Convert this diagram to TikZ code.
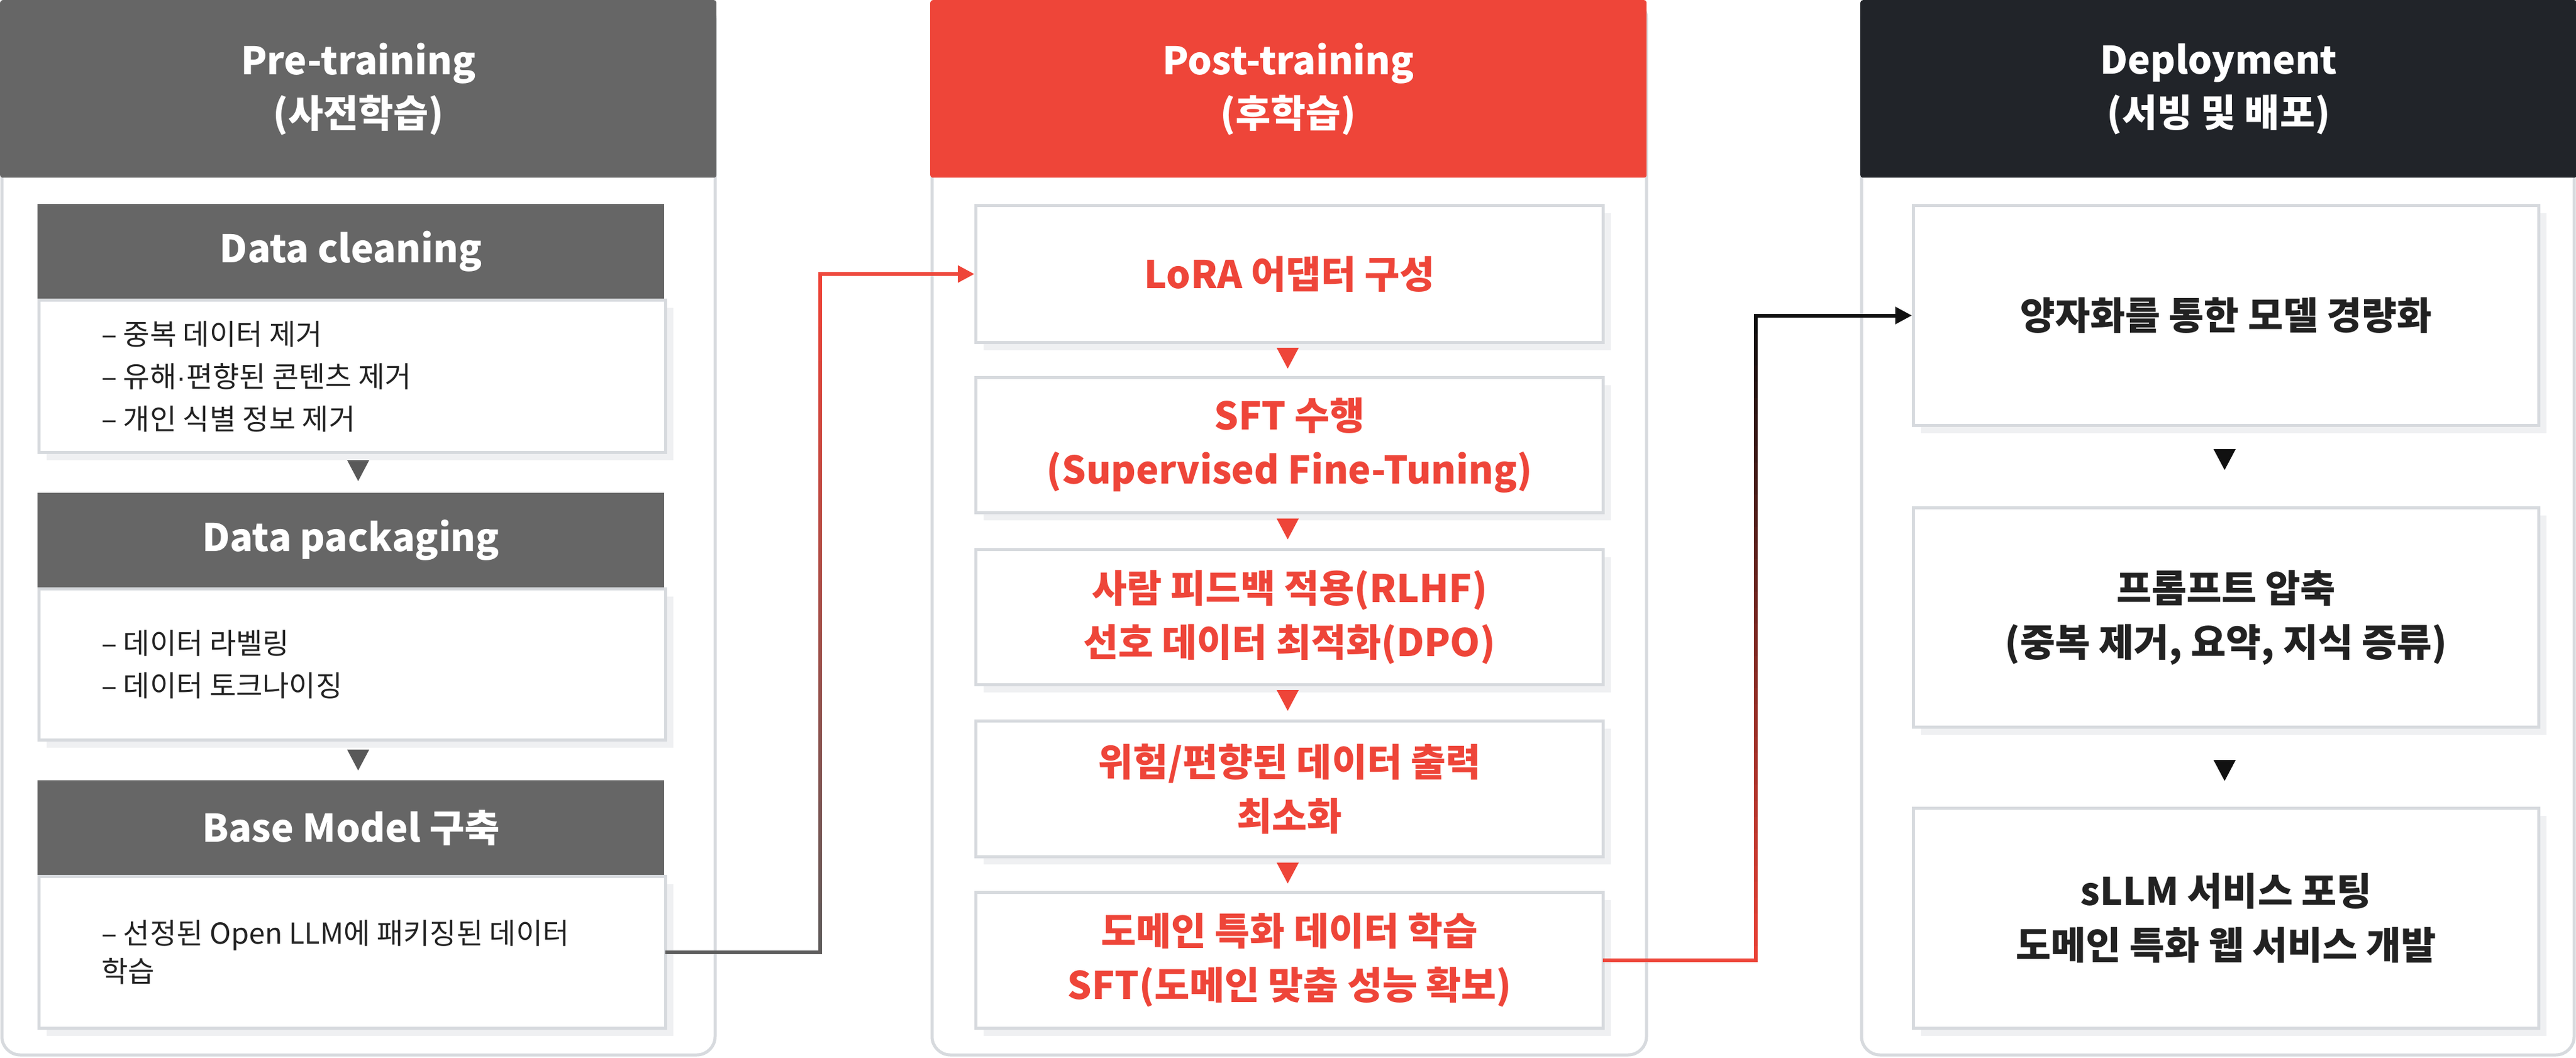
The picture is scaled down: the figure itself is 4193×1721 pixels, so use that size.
\documentclass[tikz,border=0pt]{standalone}
\usepackage{fontspec}
\setmainfont{Noto Sans CJK KR}
\newfontfamily\dotfont{Liberation Sans}
\usetikzlibrary{arrows.meta,calc}

\definecolor{pregray}{HTML}{666666}
\definecolor{postred}{HTML}{EE4539}
\definecolor{deploydark}{HTML}{212429}
\definecolor{framegray}{HTML}{D7DADE}
\definecolor{shadegray}{HTML}{EFF0F2}
\definecolor{inkdark}{HTML}{222222}
\definecolor{markgray}{HTML}{595959}
\definecolor{linegray}{HTML}{5E5E5E}
\definecolor{lineblack}{HTML}{111111}

\newcommand{\headfont}{\fontsize{62}{86}\selectfont\bfseries}
\newcommand{\stepfont}{\fontsize{62}{88}\selectfont\bfseries}
\newcommand{\bodyfont}{\fontsize{47}{69}\selectfont}

\tikzset{
  column/.style={draw=framegray, line width=5pt, fill=white, rounded corners=30pt},
  colhead/.style={anchor=north west, minimum width=1166pt, minimum height=289pt,
    inner sep=0pt, rounded corners=4pt, text=white, align=center, font=\headfont},
  boxshadow/.style={preaction={fill=shadegray, transform canvas={xshift=12pt, yshift=-12pt}}},
  stephead/.style={anchor=north west, minimum width=1020pt, minimum height=154pt,
    inner sep=0pt, fill=pregray, text=white, font=\headfont},
  stepbody/.style={anchor=north west, minimum width=1020pt, inner sep=0pt,
    draw=framegray, line width=5pt, fill=white, boxshadow},
  bullettext/.style={anchor=west, align=left, inner sep=0pt, text=inkdark, font=\bodyfont},
  poststep/.style={anchor=north west, minimum width=1021pt, inner sep=0pt,
    draw=framegray, line width=5pt, fill=white, boxshadow,
    align=center, text=postred, font=\stepfont},
  deploystep/.style={poststep, minimum width=1018pt, text=inkdark},
  flowline/.style={line width=6pt, line cap=rect},
}

\begin{document}
\begin{tikzpicture}[x=1pt, y=-1pt]
  \useasboundingbox (0,0) rectangle (4193,1721);

  % columns
  \draw[column] (3,0) rectangle (1164,1717);
  \draw[column] (1517,0) rectangle (2680,1717);
  \draw[column] (3030,0) rectangle (4190,1717);

  \node[colhead, fill=pregray] (preHead) at (0,0) {Pre-training\\(사전학습)};
  \node[colhead, fill=postred] (postHead) at (1514,0) {Post-training\\(후학습)};
  \node[colhead, fill=deploydark] (deployHead) at (3028,0) {Deployment\\(서빙 및 배포)};

  % pre-training steps
  \node[stepbody, minimum height=248pt] (cleanBody) at (61,486) {};
  \node[stephead] (cleanHead) at (61,332) {Data cleaning};
  \node[bullettext] (cleanTxt) at ([xshift=104pt]cleanBody.west)
    {– 중복 데이터 제거\\– 유해{\dotfont·}편향된 콘텐츠 제거\\– 개인 식별 정보 제거};

  \node[stepbody, minimum height=246pt] (packBody) at (61,956) {};
  \node[stephead] (packHead) at (61,802) {Data packaging};
  \node[bullettext] (packTxt) at ([xshift=104pt]packBody.west)
    {– 데이터 라벨링\\– 데이터 토크나이징};

  \node[stepbody, minimum height=247pt] (baseBody) at (61,1424) {};
  \node[stephead] (baseHead) at (61,1270) {Base Model 구축};
  \node[bullettext, font=\fontsize{47}{62}\selectfont] (baseTxt) at ([xshift=104pt]baseBody.west)
    {– 선정된 Open LLM에 패키징된 데이터\\학습};

  % post-training steps
  \node[poststep, minimum height=223pt] (loraBox) at (1586,332) {LoRA 어댑터 구성};
  \node[poststep, minimum height=220pt] (sftBox) at (1586,612) {SFT 수행\\(Supervised Fine-Tuning)};
  \node[poststep, minimum height=220pt] (rlhfBox) at (1586,892) {사람 피드백 적용(RLHF)\\선호 데이터 최적화(DPO)};
  \node[poststep, minimum height=221pt] (riskBox) at (1586,1171) {위험/편향된 데이터 출력\\최소화};
  \node[poststep, minimum height=221pt] (domainBox) at (1586,1450) {도메인 특화 데이터 학습\\SFT(도메인 맞춤 성능 확보)};

  % deployment steps
  \node[deploystep, minimum height=358pt] (quantBox) at (3112,332) {양자화를 통한 모델 경량화};
  \node[deploystep, minimum height=357pt] (promptBox) at (3112,824) {프롬프트 압축\\(중복 제거, 요약, 지식 증류)};
  \node[deploystep, minimum height=358pt] (serveBox) at (3112,1313) {sLLM 서비스 포팅\\도메인 특화 웹 서비스 개발};

  % step marks
  \foreach \y in {766,1237}
    \fill[markgray] (565,\y-17) -- (601,\y-17) -- (583,\y+17) -- cycle;
  \foreach \y in {583,861,1140,1421}
    \fill[postred] (2078,\y-17) -- (2114,\y-17) -- (2096,\y+17) -- cycle;
  \foreach \y in {748,1254}
    \fill[lineblack] (3603,\y-17) -- (3639,\y-17) -- (3621,\y+17) -- cycle;

  % connectors between columns
  \coordinate (railA) at (1335,0);
  \coordinate (railB) at (2858,0);
  \coordinate (railAlow) at (baseBody.east -| railA);
  \coordinate (railAtop) at (loraBox.west -| railA);
  \coordinate (railBlow) at (domainBox.east -| railB);
  \coordinate (railBtop) at (quantBox.west -| railB);

  \draw[flowline, linegray] (baseBody.east) -- (railAlow);
  \foreach \i in {1,...,40}{
    \pgfmathtruncatemacro\mix{100*\i/40}
    \draw[flowline, postred!\mix!linegray]
      ($(railAlow)!{(\i-1)/40}!(railAtop)$) -- ($(railAlow)!{\i/40}!(railAtop)$);
  }
  \draw[flowline, postred, -{Triangle[length=27pt, width=27pt]}] (railAtop) -- (loraBox.west);

  \draw[flowline, postred] (domainBox.east) -- (railBlow);
  \foreach \i in {1,...,40}{
    \pgfmathtruncatemacro\mix{100*\i/40}
    \draw[flowline, lineblack!\mix!postred]
      ($(railBlow)!{(\i-1)/40}!(railBtop)$) -- ($(railBlow)!{\i/40}!(railBtop)$);
  }
  \draw[flowline, lineblack, -{Triangle[length=27pt, width=27pt]}] (railBtop) -- (quantBox.west);
\end{tikzpicture}
\end{document}
